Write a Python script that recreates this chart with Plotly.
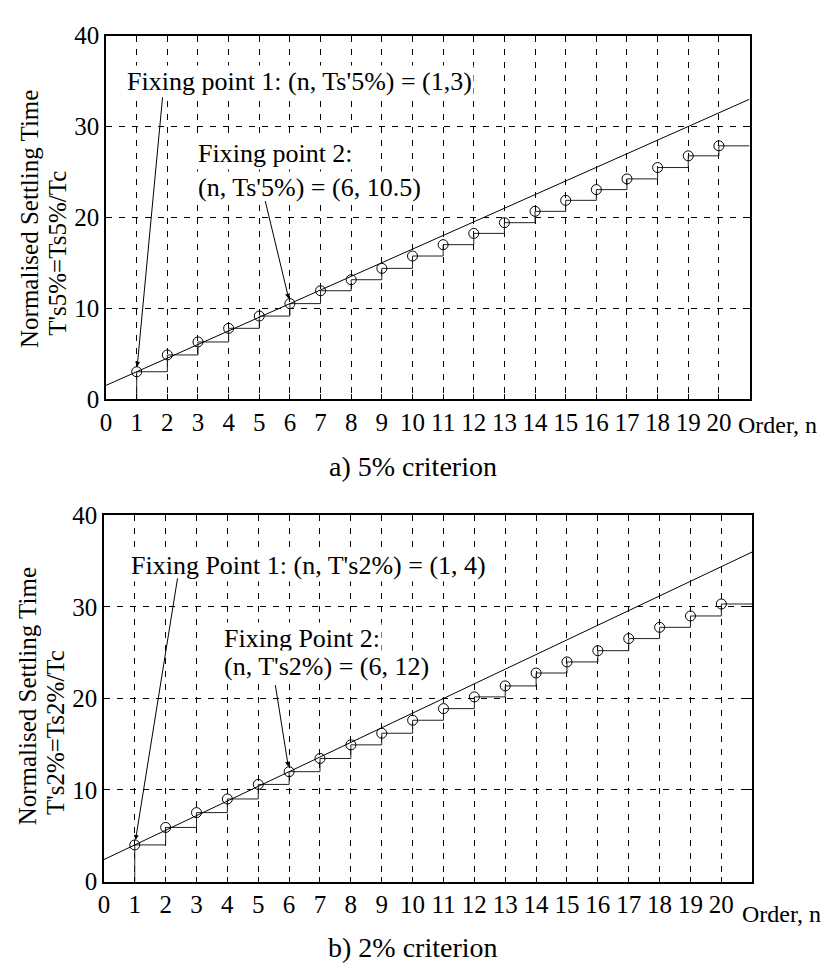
import plotly.graph_objects as go

# ---------------- data ----------------
order_n = list(range(1, 21))
ts5_norm = [3.0, 4.85, 6.28, 7.78, 9.13, 10.5, 11.92, 13.13, 14.38, 15.74,
            16.99, 18.23, 19.41, 20.66, 21.87, 23.05, 24.23, 25.48, 26.77, 27.87]
ts2_norm = [4.0, 5.91, 7.53, 9.02, 10.61, 12.0, 13.44, 14.93, 16.2, 17.62,
            18.89, 20.17, 21.37, 22.78, 23.99, 25.22, 26.54, 27.77, 29.01, 30.32]
line_x = [0, 21]
line5_y = [1.5, 33.0]
line2_y = [2.4, 36.0]
fix5 = [(1, 3.0), (6, 10.5)]
fix2 = [(1, 4.0), (6, 12.0)]
x_ticks = list(range(0, 21))
y_ticks = [0, 10, 20, 30, 40]

W, H = 823, 974
FONT = "Liberation Serif, Times New Roman, serif"


def px(x):
    return x / W


def py(y):
    return 1 - y / H


fig = go.Figure()


def add_panel(xa, ya, vals, line_y):
    # staircase
    sx = [order_n[0]] + order_n + [line_x[1]]
    sy = [0] + vals + [vals[-1]]
    fig.add_trace(go.Scatter(x=sx, y=sy, mode="lines", line=dict(color="#222", width=1, shape="hv"),
                             xaxis=xa, yaxis=ya, showlegend=False, hoverinfo="skip"))
    fig.add_trace(go.Scatter(x=line_x, y=line_y, mode="lines", line=dict(color="black", width=1),
                             xaxis=xa, yaxis=ya, showlegend=False, hoverinfo="skip"))
    fig.add_trace(go.Scatter(x=order_n, y=vals, mode="markers",
                             marker=dict(symbol="circle-open", size=10, color="black", line=dict(width=1)),
                             xaxis=xa, yaxis=ya, showlegend=False))


add_panel("x", "y", ts5_norm, line5_y)
add_panel("x2", "y2", ts2_norm, line2_y)

axis_common = dict(showline=True, linecolor="black", linewidth=1.5, mirror="ticks",
                   ticks="inside", ticklen=5, tickcolor="black", tickwidth=1,
                   showgrid=True, gridcolor="black", gridwidth=1, griddash="6px,7px",
                   zeroline=False, tickfont=dict(family=FONT, size=25, color="black"))

fig.update_layout(
    width=W, height=H, margin=dict(l=0, r=0, t=0, b=0),
    paper_bgcolor="white", plot_bgcolor="white",
    xaxis=dict(domain=[px(100.8), px(749)], range=[0, 21], tickvals=x_ticks, anchor="y", **axis_common),
    yaxis=dict(domain=[py(397), py(23.3)], range=[0, 40], tickvals=y_ticks, anchor="x", **axis_common),
    xaxis2=dict(domain=[px(98.6), px(751.7)], range=[0, 21], tickvals=x_ticks, anchor="y2", **axis_common),
    yaxis2=dict(domain=[py(893.3), py(516.7)], range=[0, 40], tickvals=y_ticks, anchor="x2", **axis_common),
)

ann = []
tfont = dict(family=FONT, size=26, color="black")

# text annotations (white background)
def text(xref, yref, x, y, t, **kw):
    d = dict(xref=xref, yref=yref, x=x, y=y, text=t, showarrow=False, font=tfont,
             xanchor="left", yanchor="middle", bgcolor="white", borderpad=1)
    d.update(kw)
    ann.append(d)


text("x", "y", 0.62, 35.0, "Fixing point 1: (n, Ts'5%) = (1,3)")
text("x", "y", 2.95, 26.98, "Fixing point 2:")
text("x", "y", 2.95, 23.23, "(n, Ts'5%) = (6, 10.5)")
text("x2", "y2", 0.82, 34.55, "Fixing Point 1: (n, T's2%) = (1, 4)")
text("x2", "y2", 3.84, 26.6, "Fixing Point 2:")
text("x2", "y2", 3.84, 23.5, "(n, T's2%) = (6, 12)")

# arrows
def arrow(xref, yref, pt, ax, ay):
    ann.append(dict(xref=xref, yref=yref, x=pt[0], y=pt[1], ax=ax, ay=ay, text="",
                    showarrow=True, arrowhead=2, arrowsize=1, arrowwidth=1,
                    arrowcolor="black", standoff=5))


arrow("x", "y", fix5[0], 26, -276)
arrow("x", "y", fix5[1], -25, -104)
arrow("x2", "y2", fix2[0], 43, -268)
arrow("x2", "y2", fix2[1], -14, -88)

# axis titles / captions in paper coords
def ptext(x, y, t, size=25, angle=0, xanchor="center"):
    ann.append(dict(xref="paper", yref="paper", x=px(x), y=py(y), text=t, showarrow=False,
                    textangle=angle, xanchor=xanchor, yanchor="middle",
                    font=dict(family=FONT, size=size, color="black")))


ptext(23, 212, "Normalised Settling Time", angle=-90)
ptext(52, 247, "T's5%=Ts5%/Tc", angle=-90)
ptext(22, 703, "Normalised Settling Time", angle=-90)
ptext(50, 740, "T's2%=Ts2%/Tc", angle=-90)
ptext(735, 424, "Order, n", size=24, xanchor="left")
ptext(739, 927, "Order, n", size=24, xanchor="left")
ptext(410, 466, "a) 5% criterion", size=28)
ptext(410, 961, "b) 2% criterion", size=28)

fig.update_layout(annotations=ann)
fig.write_html("out.html")
